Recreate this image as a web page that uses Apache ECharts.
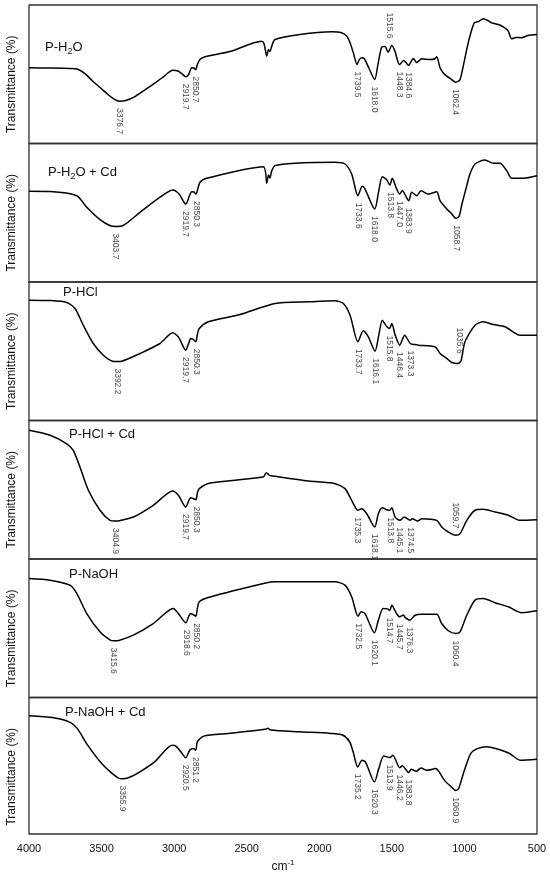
<!DOCTYPE html>
<html>
<head>
<meta charset="utf-8">
<title>FTIR spectra</title>
<script src="https://cdn.jsdelivr.net/npm/echarts@6/dist/echarts.min.js"></script>
<style>
    html, body { margin: 0; padding: 0; background: #fff; }
    #main { width: 550px; height: 876px; }
</style>
</head>
<body>
<div id="main"></div>
<script>
// Sample names, top panel to bottom panel
var sampleNames = ['P-H{sub|2}O', 'P-H{sub|2}O + Cd', 'P-HCl', 'P-HCl + Cd', 'P-NaOH', 'P-NaOH + Cd'];

// Wavenumber axis (cm-1), drawn reversed
var xMin = 500;
var xMax = 4000;
var xStep = 500;

// Spectra: [wavenumber, transmittance in panel units 0-100]
var specH2O = [
    [4000, 54.7], [3855, 54.5], [3718, 54.2], [3669, 53.8], [3614, 50.5], [3566, 45.5], [3511, 40.4], [3456, 35.4],
    [3410, 31.8], [3377, 30.5], [3335, 31.0], [3270, 33.9], [3166, 41.2], [3084, 47.3], [3008, 52.9], [2973, 52.3],
    [2946, 50.2], [2920, 48.2], [2900, 49.8], [2879, 54.7], [2865, 54.5], [2851, 53.4], [2840, 57.0], [2822, 60.6],
    [2787, 62.6], [2615, 66.4], [2397, 73.9], [2381, 72.2], [2362, 63.0], [2350, 67.8], [2340, 66.4], [2326, 70.8],
    [2305, 75.1], [2133, 78.7], [1914, 80.6], [1846, 79.9], [1809, 77.3], [1788, 72.7], [1766, 65.7], [1740, 57.0],
    [1724, 60.6], [1706, 61.9], [1690, 61.4], [1660, 54.9], [1618, 46.2], [1596, 57.0], [1568, 69.8], [1547, 70.0],
    [1526, 65.9], [1500, 70.8], [1478, 66.4], [1448, 57.0], [1418, 59.9], [1385, 56.5], [1352, 61.4], [1329, 58.5],
    [1294, 61.2], [1237, 60.6], [1203, 61.2], [1191, 62.6], [1168, 54.7], [1148, 51.3], [1122, 48.6], [1088, 46.2],
    [1062, 44.3], [1044, 44.8], [1030, 46.2], [1010, 54.9], [984, 67.9], [962, 77.6], [932, 87.1], [906, 88.0],
    [870, 90.0], [838, 88.8], [812, 87.1], [767, 85.9], [727, 83.8], [698, 81.1], [674, 75.6], [645, 76.5],
    [605, 76.4], [562, 78.0], [500, 78.7]
];
var specH2OCd = [
    [4000, 65.5], [3855, 65.3], [3671, 62.3], [3602, 53.9], [3511, 45.0], [3440, 40.6], [3404, 40.1], [3355, 40.6],
    [3235, 50.3], [3097, 61.2], [3010, 66.4], [2966, 63.5], [2920, 56.3], [2895, 62.1], [2879, 65.2], [2863, 65.0],
    [2850, 63.5], [2822, 72.0], [2776, 74.9], [2386, 83.2], [2362, 71.3], [2350, 77.3], [2340, 75.1], [2328, 80.1],
    [2305, 84.0], [2167, 85.7], [1892, 86.4], [1823, 85.2], [1777, 78.0], [1734, 62.3], [1704, 69.1], [1685, 67.1],
    [1618, 52.7], [1590, 65.9], [1566, 76.0], [1536, 73.9], [1514, 70.0], [1497, 74.9], [1470, 68.0], [1447, 63.5],
    [1428, 65.9], [1384, 58.7], [1363, 64.8], [1329, 62.3], [1299, 65.9], [1249, 63.5], [1191, 65.2], [1168, 58.7],
    [1122, 52.7], [1092, 49.8], [1059, 46.0], [1037, 47.4], [1017, 56.3], [984, 69.5], [962, 78.0], [927, 85.2],
    [858, 88.1], [801, 85.7], [755, 85.7], [709, 80.4], [674, 74.9], [594, 74.9], [500, 76.7]
];
var specHCl = [
    [4000, 86.9], [3855, 86.6], [3740, 85.2], [3683, 80.9], [3626, 68.8], [3557, 55.6], [3488, 47.1], [3425, 42.8],
    [3392, 42.6], [3361, 42.8], [3235, 48.4], [3097, 55.6], [3010, 63.3], [2971, 60.4], [2920, 50.8], [2900, 55.6],
    [2886, 59.2], [2870, 58.5], [2850, 56.8], [2840, 62.1], [2827, 66.4], [2765, 71.3], [2546, 76.5], [2305, 84.5],
    [2076, 85.7], [1892, 86.4], [1834, 84.5], [1788, 76.0], [1734, 56.8], [1697, 64.8], [1662, 60.4], [1616, 50.0],
    [1590, 61.6], [1566, 72.4], [1540, 68.5], [1516, 66.4], [1500, 70.0], [1478, 62.0], [1446, 54.4], [1412, 61.6],
    [1373, 55.6], [1340, 54.8], [1318, 54.4], [1203, 53.2], [1168, 48.4], [1122, 44.8], [1086, 41.9], [1044, 41.2],
    [1023, 43.3], [996, 56.8], [927, 68.8], [870, 71.3], [801, 69.3], [720, 67.7], [617, 61.6], [500, 61.6]
];
var specHClCd = [
    [4000, 92.9], [3855, 89.3], [3740, 83.2], [3695, 78.5], [3649, 66.4], [3591, 49.6], [3511, 35.2], [3442, 27.9],
    [3405, 27.4], [3385, 27.5], [3281, 30.3], [3144, 38.8], [3010, 49.1], [2971, 46.0], [2920, 37.5], [2900, 41.9],
    [2888, 44.3], [2870, 43.7], [2850, 42.8], [2840, 47.7], [2827, 50.8], [2753, 54.9], [2386, 59.2], [2367, 62.1],
    [2353, 61.4], [2344, 60.4], [2305, 59.7], [2076, 56.3], [1892, 54.4], [1823, 50.8], [1777, 42.4], [1735, 35.2],
    [1708, 36.3], [1673, 32.7], [1618, 23.1], [1593, 32.7], [1566, 37.0], [1540, 35.8], [1514, 35.2], [1500, 37.0],
    [1478, 30.3], [1445, 27.9], [1414, 30.3], [1374, 27.9], [1359, 29.1], [1322, 27.4], [1294, 29.1], [1191, 27.9],
    [1157, 23.1], [1111, 19.5], [1060, 17.1], [1030, 18.3], [984, 27.9], [927, 35.2], [870, 35.9], [789, 33.9],
    [698, 31.6], [617, 27.9], [500, 28.4]
];
var specNaOH = [
    [4000, 85.9], [3855, 84.7], [3718, 81.1], [3671, 75.1], [3602, 60.6], [3511, 47.4], [3440, 41.4], [3416, 40.9],
    [3380, 41.2], [3281, 45.0], [3144, 53.4], [3006, 64.3], [2971, 60.6], [2919, 53.9], [2900, 58.5], [2888, 60.6],
    [2870, 59.9], [2850, 58.7], [2840, 64.3], [2827, 69.1], [2765, 72.2], [2362, 82.8], [2305, 83.5], [1892, 83.5],
    [1823, 81.1], [1777, 72.7], [1733, 58.7], [1712, 61.9], [1685, 60.6], [1620, 46.7], [1593, 55.8], [1560, 64.3],
    [1530, 64.0], [1515, 62.8], [1500, 66.6], [1470, 61.0], [1446, 58.3], [1420, 59.5], [1409, 57.8], [1376, 55.8],
    [1340, 59.4], [1294, 60.1], [1191, 60.1], [1157, 53.4], [1111, 48.2], [1060, 46.2], [1030, 47.4], [984, 59.4],
    [927, 70.3], [870, 71.5], [789, 68.4], [698, 65.5], [605, 61.2], [500, 62.6]
];
var specNaOHCd = [
    [4000, 86.7], [3838, 85.3], [3717, 81.8], [3668, 77.4], [3596, 65.1], [3499, 51.6], [3426, 44.2], [3380, 40.8],
    [3356, 40.5], [3320, 41.0], [3256, 44.2], [3135, 52.8], [3014, 65.1], [2990, 64.6], [2954, 60.2], [2920, 55.8],
    [2893, 61.4], [2869, 62.7], [2851, 61.4], [2840, 67.6], [2796, 71.7], [2627, 73.7], [2372, 76.7], [2355, 77.4],
    [2336, 76.2], [2142, 74.9], [1924, 73.7], [1840, 72.5], [1791, 67.6], [1767, 60.2], [1735, 49.1], [1706, 54.1],
    [1682, 52.8], [1620, 38.1], [1590, 47.9], [1556, 57.2], [1514, 56.0], [1493, 57.7], [1446, 48.5], [1428, 50.0],
    [1384, 45.0], [1367, 47.4], [1331, 45.9], [1299, 48.4], [1258, 46.7], [1198, 47.9], [1174, 45.5], [1137, 39.3],
    [1089, 34.4], [1061, 31.9], [1040, 33.2], [1004, 45.5], [956, 59.0], [907, 62.7], [847, 63.9], [786, 62.7],
    [689, 59.0], [617, 54.1], [500, 54.8]
];

// Peak labels: written under the band / over the band
var peaksH2O = ['3376.7', '2919.7', '2850.7', '1739.5', '1618.0', '1448.3', '1384.6', '1062.4'];
var peaksAboveH2O = ['1515.6'];
var peaksH2OCd = ['3403.7', '2919.7', '2850.3', '1733.6', '1618.0', '1513.8', '1447.0', '1383.9', '1058.7'];
var peaksAboveH2OCd = [];
var peaksHCl = ['3392.2', '2919.7', '2850.3', '1733.7', '1616.1', '1515.8', '1446.4', '1373.3'];
var peaksAboveHCl = ['1035.6'];
var peaksHClCd = ['3404.9', '2919.7', '2850.3', '1735.3', '1618.1', '1513.8', '1445.1', '1374.5'];
var peaksAboveHClCd = ['1059.7'];
var peaksNaOH = ['3415.6', '2918.6', '2850.2', '1732.5', '1620.1', '1514.7', '1445.7', '1376.3', '1060.4'];
var peaksAboveNaOH = [];
var peaksNaOHCd = ['3355.9', '2920.5', '2851.2', '1735.2', '1620.3', '1513.9', '1446.2', '1383.8', '1060.9'];
var peaksAboveNaOHCd = [];

var spectra = [specH2O, specH2OCd, specHCl, specHClCd, specNaOH, specNaOHCd];
var peaksBelow = [peaksH2O, peaksH2OCd, peaksHCl, peaksHClCd, peaksNaOH, peaksNaOHCd];
var peaksAbove = [peaksAboveH2O, peaksAboveH2OCd, peaksAboveHCl, peaksAboveHClCd, peaksAboveNaOH, peaksAboveNaOHCd];

// layout
var PANEL_TOP = 5;
var PANEL_H = 138.5;
var PLOT_LEFT = 29;
var PLOT_RIGHT = 13;
var LABEL_GAP = 5; // in panel units
var titleLeft = [45, 48, 63, 69, 69, 65];
var titleDy = [42, 29, 10, 14, 15, 15];
var FONT = '"Liberation Sans", Arial, sans-serif';

// value of a spectrum at wn (linear between samples)
function interp(spec, wn) {
    for (var i = 0; i < spec.length - 1; i++) {
        var a = spec[i], b = spec[i + 1];
        if (wn <= a[0] && wn >= b[0]) {
            return a[1] + (b[1] - a[1]) * (a[0] - wn) / (a[0] - b[0]);
        }
    }
    return spec[spec.length - 1][1];
}

// where the peak label starts: just under the dip, or just over the bump
function anchorFor(spec, wn, above) {
    var v = interp(spec, wn);
    spec.forEach(function (p) {
        if (Math.abs(p[0] - wn) <= 25) {
            if (above ? p[1] > v : p[1] < v) v = p[1];
        }
    });
    return above ? v + LABEL_GAP : v - LABEL_GAP;
}

var grids = [], xAxes = [], yAxes = [], series = [], graphics = [];

spectra.forEach(function (spec, i) {
    var last = i === spectra.length - 1;
    var top = PANEL_TOP + i * PANEL_H;
    grids.push({
        left: PLOT_LEFT, right: PLOT_RIGHT, top: top, height: PANEL_H,
        show: true, borderColor: '#333', borderWidth: 1.3, backgroundColor: 'transparent'
    });
    xAxes.push({
        gridIndex: i, type: 'value', min: xMin, max: xMax, interval: xStep, inverse: true,
        axisLine: { show: false }, axisTick: { show: false }, splitLine: { show: false },
        axisLabel: {
            show: last, color: '#111', fontSize: 11, fontFamily: FONT, margin: 9,
            formatter: function (v) { return String(v); }
        },
        name: last ? 'cm{sup|-1}' : '', nameLocation: 'middle', nameGap: 25,
        nameTextStyle: {
            color: '#111', fontSize: 12, fontFamily: FONT, lineHeight: 16,
            rich: { sup: { fontSize: 8, fontFamily: FONT, color: '#111', verticalAlign: 'top', lineHeight: 16 } }
        }
    });
    yAxes.push({
        gridIndex: i, type: 'value', min: 0, max: 100,
        axisLine: { show: false }, axisTick: { show: false }, splitLine: { show: false },
        axisLabel: { show: false }
    });

    series.push({
        type: 'line', xAxisIndex: i, yAxisIndex: i, data: spec,
        showSymbol: false, smooth: 0.25, silent: true,
        lineStyle: { color: '#000', width: 1.5 }
    });

    var labels = [];
    peaksBelow[i].forEach(function (t) {
        labels.push({ name: t, value: [parseFloat(t), anchorFor(spec, parseFloat(t), false)], label: { align: 'left' } });
    });
    peaksAbove[i].forEach(function (t) {
        labels.push({ name: t, value: [parseFloat(t), anchorFor(spec, parseFloat(t), true)], label: { align: 'right' } });
    });
    series.push({
        type: 'scatter', xAxisIndex: i, yAxisIndex: i, data: labels,
        symbolSize: 1, itemStyle: { color: 'rgba(0,0,0,0)' }, silent: true,
        label: {
            show: true, formatter: '{b}', position: 'inside', rotate: -90,
            verticalAlign: 'middle', fontSize: 8.5, color: '#111', fontFamily: FONT
        }
    });

    // panel title
    graphics.push({
        type: 'text', left: titleLeft[i], top: top + titleDy[i] - 9,
        style: {
            text: sampleNames[i], fill: '#111', fontSize: 13, fontFamily: FONT, lineHeight: 18,
            rich: { sub: { fontSize: 9, fontFamily: FONT, fill: '#111', verticalAlign: 'bottom', lineHeight: 18 } }
        }
    });
    // y axis title
    graphics.push({
        type: 'text', x: 12, y: top + PANEL_H / 2 + 10, rotation: Math.PI / 2,
        style: {
            text: 'Transmittance (%)', fill: '#111', fontSize: 12, fontFamily: FONT,
            align: 'center', verticalAlign: 'middle'
        }
    });
});

var myChart = echarts.init(document.getElementById('main'));
myChart.setOption({
    animation: false,
    backgroundColor: '#fff',
    grid: grids,
    xAxis: xAxes,
    yAxis: yAxes,
    series: series,
    graphic: graphics
});
</script>
</body>
</html>
